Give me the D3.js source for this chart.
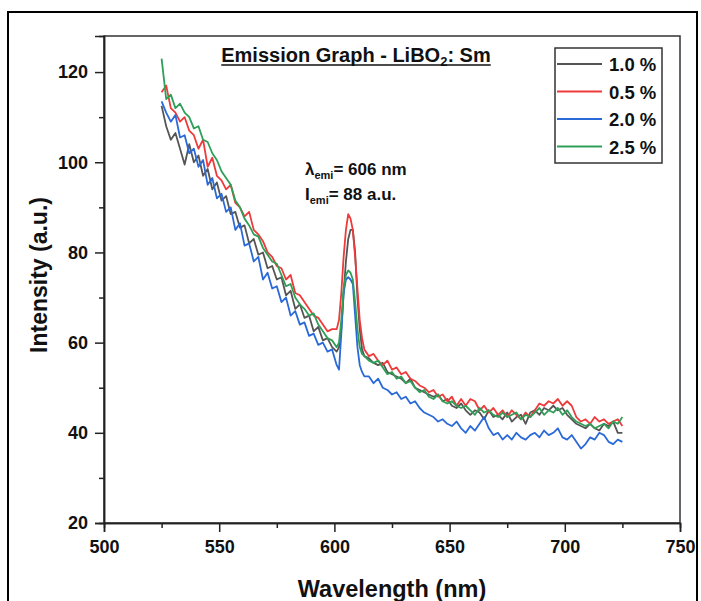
<!DOCTYPE html>
<html>
<head>
<meta charset="utf-8">
<script src="https://cdn.jsdelivr.net/npm/d3@7"></script>
<style>
body { margin: 0; background: #fff; }
text { font-family: "Liberation Sans", Arial, sans-serif; font-weight: bold; fill: #111; }
</style>
</head>
<body>
<script>
var width = 701, height = 601;

var wavelength = [525,527,529,531,533,535,537,539,541,543,545,547,549,551,553,555,557,559,561,563,565,567,569,571,573,575,577,579,581,583,585,587,589,591,593,595,597,599,
    601,602,603,604,605,606,607,608,609,610,611,612,613,
    615,617,619,621,623,625,627,629,631,633,635,637,639,641,643,645,647,649,651,653,655,657,659,661,663,665,667,669,671,673,675,677,679,681,683,685,687,689,691,693,695,697,699,701,703,705,707,709,711,713,715,717,719,721,723,725];

var conc10 = [112.5,108,105,106.5,103,99.5,104,100,101.5,97,98.5,94,95.5,91.5,92.5,88.5,89,85.5,86,82,83,79.5,80,76.5,77,74,74.5,70.5,71.5,67.5,68.5,65.5,66,62.5,63.5,60.5,61,59,
    58,59,63,71,78,83,85,85,80,70,63,58.5,57,
    56.5,55.5,55,55.5,53.5,53,52.5,52,51,52,50,49.5,49,48.5,48,48.5,47,47.5,46,45.5,46.5,45,44,45,44.5,43,45,43.5,44,43,44.5,42.5,43.5,44,42,44.5,45,44,45.5,45,46,45,45.5,44,43,42,41.5,41,42,41,40.5,42,41.5,42.5,40,40];

var conc05 = [115.5,117,112,111,109,110,107,106,103,105,99,101,97,96,94,95,91,90,88,89,85,84,82.5,80,79,77,76.5,74,75,71,70.5,69,67.5,66,65.5,64,62.5,63,
    63,65,71,79,85,88.5,87.5,85,79,72,65,61,58.5,
    57,57.5,56,55,56,54,54.5,53,53.5,52,51.5,50.5,50,49,49.5,48,48.5,47,48,46,47.5,46,47.5,47,45,46,44.5,45.5,44,45,43.5,45,44,43,44.5,43.5,45,46.5,46,47,46.5,47.5,46,47,46,43.5,42.5,43,42,43.5,42.5,43,42,42.5,43,41.5];

var conc20 = [113.5,111,109,110.5,105.5,106,102,103,99,100.5,95,96.5,92,93,89,90,85,86.5,81.5,82,78,79,74,75.5,72,72.5,69,70,66,67,64,64.5,61.5,62,59.5,60,58,58.5,
    55,54,62,71,74,74.5,74,73,66,59,55,53.5,52.5,
    52.5,51,52,50,49.5,48.5,49,47.5,48,46.5,47,45.5,44.5,44,43.5,42.5,43,42,41.5,42.5,41,40,41.5,40.5,42,43.5,41,39.5,40,38.5,39.5,38.5,40,39,38.5,39.5,40,39,40.5,39.5,40,41,39,38.5,39.5,38,36.5,37.5,39,38.5,40,39.5,38,37.5,38.5,38];

var conc25 = [123,114,115,112,113,111,110,107.5,108,105,104.5,102,100.5,98,96.5,95,91.5,90,87.5,86,84,83.5,81,79.5,78,77.5,75,72.5,73,70,68.5,67.5,66,66.5,64,62.5,61,60.5,
    59,60,65,72,75,76,75.5,74,69,63,59,57.5,57,
    56,55.5,56,54.5,53,53.5,52,52.5,51,51.5,50,49,49.5,48,47.5,48.5,47,46.5,47,46,45.5,46,45,44,45.5,44.5,45,44,43.5,44.5,43.5,44,44.5,43,44,43.5,44.5,45.5,44,45,44.5,45.5,44,45,43.5,42.5,42,41.5,42,41,41.5,42,41,42.5,42,43.5];

var seriesLabels = ["1.0 %", "0.5 %", "2.0 %", "2.5 %"];
var seriesColors = ["#555555", "#ee3a3a", "#2a6ad8", "#2f9f58"];
var xTicks = [500, 550, 600, 650, 700, 750];
var xMinor = [525, 575, 625, 675, 725];
var yTicks = [20, 40, 60, 80, 100, 120];
var yMinor = [30, 50, 70, 90, 110];

var series = [conc10, conc05, conc20, conc25].map(function(vals, i) {
    return {label: seriesLabels[i], color: seriesColors[i],
        points: vals.map(function(v, j) { return [wavelength[j], v]; })};
});

var svg = d3.select("body").append("svg")
    .attr("width", width).attr("height", height);

// outer page frame
svg.append("rect").attr("x", 8).attr("y", 12).attr("width", 689).attr("height", 640)
    .attr("fill", "none").attr("stroke", "#000").attr("stroke-width", 2);

var x = d3.scaleLinear().domain([500, 750]).range([104, 680]);
var y = d3.scaleLinear().domain([20, 128]).range([523, 36]);

var line = d3.line().x(function(d){ return x(d[0]); }).y(function(d){ return y(d[1]); });

svg.append("g").selectAll("path").data(series).enter().append("path")
    .attr("d", function(d){ return line(d.points); })
    .attr("fill", "none")
    .attr("stroke", function(d){ return d.color; })
    .attr("stroke-width", 1.8)
    .attr("stroke-linejoin", "round");

svg.append("rect").attr("x", 104).attr("y", 36).attr("width", 576).attr("height", 487)
    .attr("fill", "none").attr("stroke", "#333").attr("stroke-width", 1.5);

svg.append("g").attr("transform", "translate(0,523)")
    .call(d3.axisBottom(x).tickValues(xTicks).tickSize(9).tickPadding(8));
svg.append("g").attr("transform", "translate(0,523)")
    .call(d3.axisBottom(x).tickValues(xMinor).tickSize(5).tickFormat(""));
svg.append("g").attr("transform", "translate(104,0)")
    .call(d3.axisLeft(y).tickValues(yTicks).tickSize(9).tickPadding(7));
svg.append("g").attr("transform", "translate(104,0)")
    .call(d3.axisLeft(y).tickValues(yMinor).tickSize(5).tickFormat(""));

svg.selectAll(".domain").attr("stroke", "#222").attr("stroke-width", 1.5);
svg.selectAll(".tick line").attr("stroke", "#222").attr("stroke-width", 1.5);
svg.selectAll(".tick text").attr("font-size", 18).attr("font-family", null).attr("fill", "#111");

svg.append("text").attr("x", 392).attr("y", 597).attr("text-anchor", "middle")
    .attr("font-size", 23.5).text("Wavelength (nm)");
svg.append("text").attr("transform", "translate(47,275) rotate(-90)").attr("text-anchor", "middle")
    .attr("font-size", 23).text("Intensity (a.u.)");

// title with subscript and underline
var title = svg.append("text").attr("x", 356).attr("y", 62).attr("text-anchor", "middle").attr("font-size", 20);
title.append("tspan").text("Emission Graph - LiBO");
title.append("tspan").attr("font-size", 13).attr("dy", 4).text("2");
title.append("tspan").attr("dy", -4).text(": Sm");
var tb = title.node().getBBox();
svg.append("line").attr("x1", tb.x).attr("x2", tb.x + tb.width).attr("y1", 65).attr("y2", 65)
    .attr("stroke", "#111").attr("stroke-width", 1.5);

// peak annotation
var ann1 = svg.append("text").attr("x", 305).attr("y", 175).attr("font-size", 17);
ann1.append("tspan").text("λ");
ann1.append("tspan").attr("font-size", 11).attr("dy", 4).text("emi");
ann1.append("tspan").attr("dy", -4).text("= 606 nm");
var ann2 = svg.append("text").attr("x", 305).attr("y", 200).attr("font-size", 17);
ann2.append("tspan").text("I");
ann2.append("tspan").attr("font-size", 11).attr("dy", 4).text("emi");
ann2.append("tspan").attr("dy", -4).text("= 88 a.u.");

// legend
svg.append("rect").attr("x", 555).attr("y", 48).attr("width", 107).attr("height", 115)
    .attr("fill", "none").attr("stroke", "#333").attr("stroke-width", 1.5);
var legend = svg.append("g").selectAll(".legends").data(series).enter().append("g")
    .classed("legends", true)
    .attr("transform", function(d, i){ return "translate(0," + (64 + i * 27.5) + ")"; });
legend.append("line").attr("x1", 557).attr("x2", 602)
    .attr("stroke", function(d){ return d.color; }).attr("stroke-width", 2);
legend.append("text").attr("x", 609).attr("y", 7).attr("font-size", 18.5)
    .text(function(d){ return d.label; });
</script>
</body>
</html>
